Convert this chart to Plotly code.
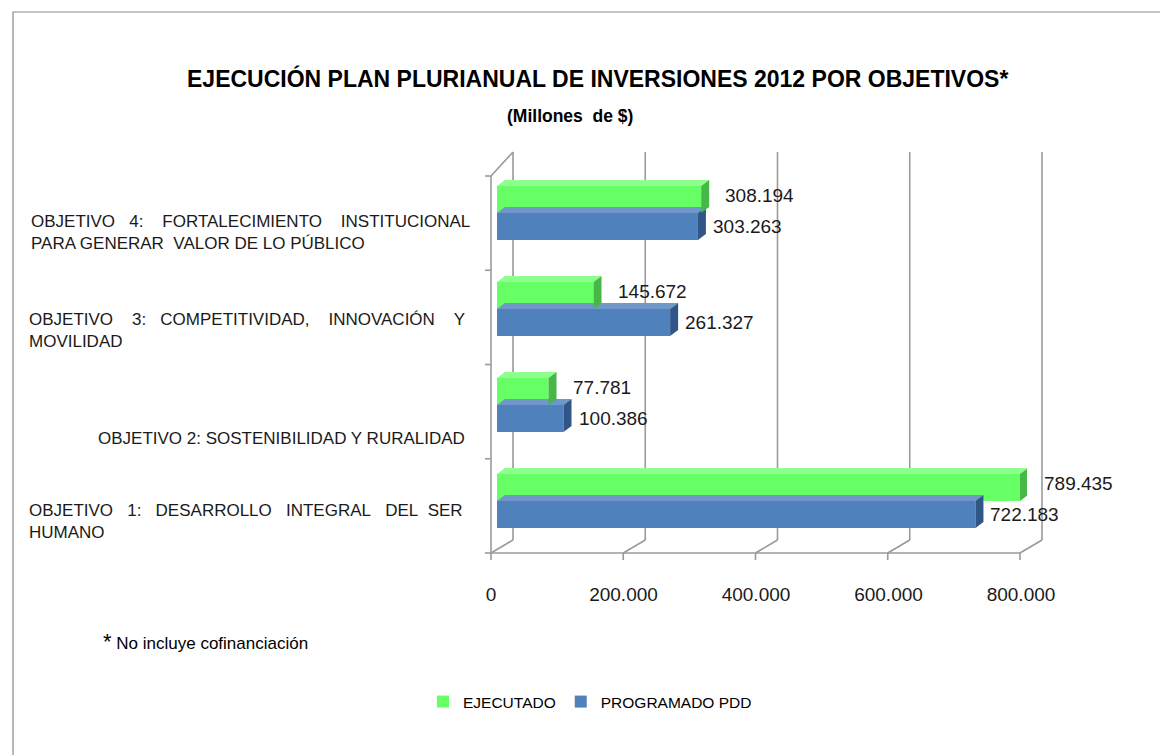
import plotly.graph_objects as go

# ---------------- data ----------------
categories = [
    "OBJETIVO 1: DESARROLLO INTEGRAL DEL SER HUMANO",
    "OBJETIVO 2: SOSTENIBILIDAD Y RURALIDAD",
    "OBJETIVO 3: COMPETITIVIDAD, INNOVACIÓN Y MOVILIDAD",
    "OBJETIVO 4: FORTALECIMIENTO INSTITUCIONAL PARA GENERAR VALOR DE LO PÚBLICO",
]
NB = "\u00a0"
cat_lines = [
    [f"OBJETIVO{NB*3}1:{NB*3}DESARROLLO{NB*3}INTEGRAL{NB*3}DEL{NB*2}SER", "HUMANO"],
    ["OBJETIVO 2: SOSTENIBILIDAD Y RURALIDAD"],
    [f"OBJETIVO{NB*4}3:{NB*3}COMPETITIVIDAD,{NB*4}INNOVACIÓN{NB*4}Y", "MOVILIDAD"],
    [f"OBJETIVO{NB*3}4:{NB*4}FORTALECIMIENTO{NB*4}INSTITUCIONAL", f"PARA GENERAR{NB*2}VALOR DE LO PÚBLICO"],
]
ejecutado = [789435, 77781, 145672, 308194]
programado = [722183, 100386, 261327, 303263]
tick_vals = [0, 200000, 400000, 600000, 800000]
tick_text = ["0", "200.000", "400.000", "600.000", "800.000"]

series_names = ["EJECUTADO", "PROGRAMADO PDD"]
title = "EJECUCIÓN PLAN PLURIANUAL DE INVERSIONES 2012 POR OBJETIVOS*"
subtitle = f"(Millones{NB*2}de $)"
footnote = "No incluye cofinanciación"

# ---------------- style / layout ----------------
W, H = 1160, 755
L, R, T, B = 497, 133, 165, 206
PW, PH = W - L - R, H - T - B
XMAX = 800000
BW = 0.28  # bar thickness in category units

GREEN, GREEN_TOP, GREEN_SIDE = "#66ff66", "#8cff8c", "#47b847"
BLUE, BLUE_TOP, BLUE_SIDE = "#4f81bd", "#6f97c8", "#2f5687"
FRAME = "#9a9a9a"
FONT = "Liberation Sans"
TXT = "#1a1a1a"


def px(xp):
    return (xp - L) / PW


def py(yp):
    return (H - B - yp) / PH


ypos = list(range(len(categories)))

fig = go.Figure()
fig.add_trace(go.Bar(
    name=series_names[1], y=ypos, x=programado, orientation="h",
    marker=dict(color=BLUE, line=dict(width=0)), width=BW, offset=-BW,
))
fig.add_trace(go.Bar(
    name=series_names[0], y=ypos, x=ejecutado, orientation="h",
    marker=dict(color=GREEN, line=dict(width=0)), width=BW, offset=0,
))

shapes = []
# ---- 3D frame (pixel geometry) ----
DX, DY = 22, 13
FX0, FY = 491, 553
FSC = 529 / XMAX
line = dict(color=FRAME, width=1.6)


def seg(x0, y0, x1, y1, ln=line):
    shapes.append(dict(type="line", xref="paper", yref="paper",
                       x0=px(x0), y0=py(y0), x1=px(x1), y1=py(y1), line=ln, layer="below"))


top_front = 176
top_back = top_front - 24
for v in tick_vals:
    xf = FX0 + v * FSC
    seg(xf, FY, xf + DX, FY - DY)              # floor diagonal
    seg(xf + DX, FY - DY, xf + DX, top_back)   # back-wall gridline
    seg(xf, FY, xf, FY + 7)                    # tick mark
seg(FX0, FY, FX0 + XMAX * FSC, FY)             # front axis
seg(FX0, FY, FX0, top_front)                   # left wall front edge
seg(FX0, top_front, FX0 + DX, top_back)        # left wall top diagonal
n = len(categories)
for i in range(n + 1):
    yt = FY - i * (FY - top_front) / n
    seg(FX0 - 6, yt, FX0, yt)

# ---- 3D faces of bars (data coordinates) ----
ddx = 8 * XMAX / PW
ddy = 6 / (PH / 4)


def faces(v, y0, y1, top, side):
    shapes.append(dict(type="path", xref="x", yref="y", layer="above", line=dict(width=0),
                       fillcolor=top,
                       path=f"M 0,{y1} L {v},{y1} L {v+ddx},{y1+ddy} L {ddx},{y1+ddy} Z"))
    shapes.append(dict(type="path", xref="x", yref="y", layer="above", line=dict(width=0),
                       fillcolor=side,
                       path=f"M {v},{y0} L {v+ddx},{y0+ddy} L {v+ddx},{y1+ddy} L {v},{y1} Z"))


for i in ypos:
    faces(programado[i], i - BW, i, BLUE_TOP, BLUE_SIDE)
    faces(ejecutado[i], i, i + BW, GREEN_TOP, GREEN_SIDE)

# ---- border of chart area ----
shapes.append(dict(type="rect", xref="paper", yref="paper",
                   x0=px(13), y0=py(H + 5), x1=px(W + 5), y1=py(12),
                   line=dict(color="#8a8a8a", width=1.2), layer="below"))

annotations = []


def fmt(v):
    return f"{v:,}".replace(",", ".")


for i in ypos:
    annotations.append(dict(x=ejecutado[i], y=i + BW / 2, xref="x", yref="y", text=fmt(ejecutado[i]),
                            showarrow=False, xanchor="left", yanchor="middle", xshift=22, yshift=4,
                            font=dict(family=FONT, size=19, color=TXT)))
    annotations.append(dict(x=programado[i], y=i - BW / 2, xref="x", yref="y", text=fmt(programado[i]),
                            showarrow=False, xanchor="left", yanchor="middle", xshift=13, yshift=0,
                            font=dict(family=FONT, size=19, color=TXT)))

# category labels (pixel positions of the text blocks)
cat_pos = [(27, 521, "left"), (467, 438, "right"), (27, 330, "left"), (29, 232, "left")]
for lines, (xp, yp, al) in zip(cat_lines, cat_pos):
    annotations.append(dict(x=px(xp), y=py(yp), xref="paper", yref="paper",
                            text="<br>".join(lines), showarrow=False,
                            xanchor=al, yanchor="middle", align=al,
                            font=dict(family=FONT, size=17, color=TXT)))

annotations.append(dict(x=px(597), y=py(78), xref="paper", yref="paper", text=f"<b>{title}</b>",
                        showarrow=False, xanchor="center", yanchor="middle",
                        font=dict(family=FONT, size=23, color="#000")))
annotations.append(dict(x=px(570), y=py(116), xref="paper", yref="paper", text=f"<b>{subtitle}</b>",
                        showarrow=False, xanchor="center", yanchor="middle",
                        font=dict(family=FONT, size=17.5, color="#000")))
annotations.append(dict(x=px(101), y=py(641), xref="paper", yref="paper",
                        text=f"<span style='font-size:22px'>*</span> {footnote}",
                        showarrow=False, xanchor="left", yanchor="middle",
                        font=dict(family=FONT, size=17, color="#000")))

fig.update_layout(
    width=W, height=H,
    margin=dict(l=L, r=R, t=T, b=B, pad=0),
    paper_bgcolor="white", plot_bgcolor="rgba(0,0,0,0)",
    barmode="overlay",
    separators=",.",
    showlegend=True,
    legend=dict(orientation="h", x=px(590), y=py(702), xanchor="center", yanchor="middle",
                traceorder="reversed", font=dict(family=FONT, size=15.5, color="#000"),
                itemwidth=30),
    xaxis=dict(range=[0, XMAX], tickvals=tick_vals, ticktext=tick_text, showgrid=False,
               zeroline=False, showline=False, ticks="", ticklabelshift=-6,
               ticklabelstandoff=32, tickfont=dict(family=FONT, size=19, color=TXT)),
    yaxis=dict(range=[-0.5, n - 0.5], showticklabels=False, showgrid=False, zeroline=False,
               showline=False, ticks=""),
    shapes=shapes,
    annotations=annotations,
    font=dict(family=FONT),
)

fig.write_html("out.html", config={"displayModeBar": False},
               post_script="document.body.style.margin='0';")
